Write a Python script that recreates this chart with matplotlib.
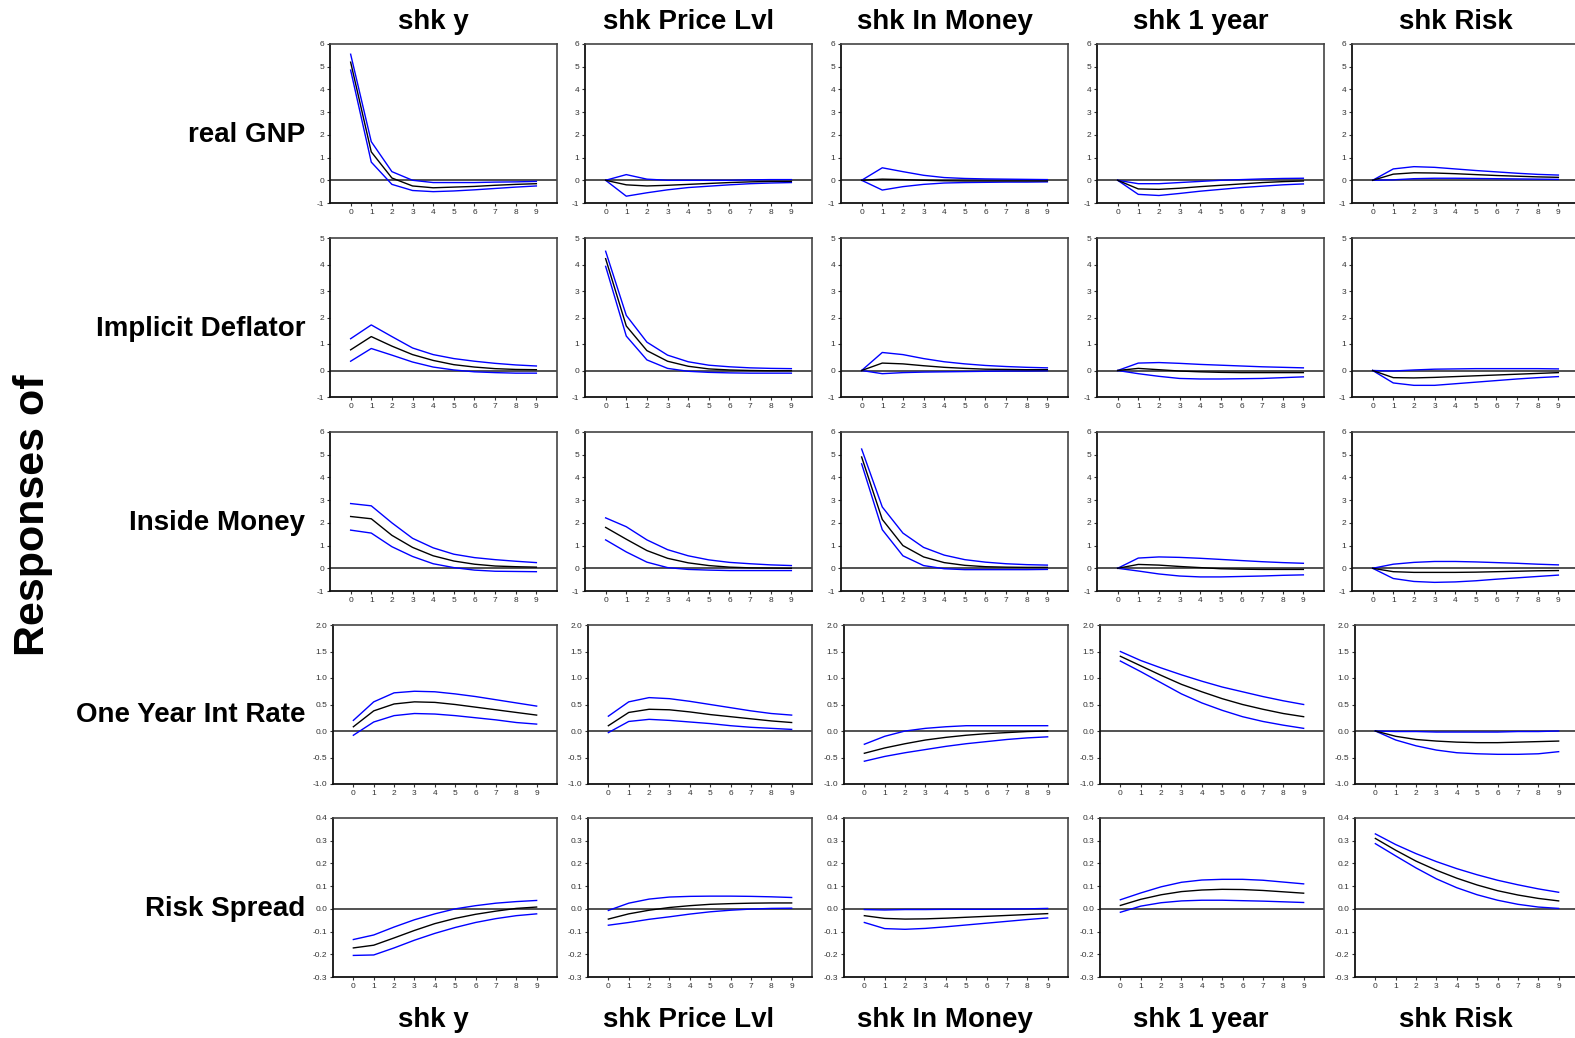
import numpy as np
import matplotlib
matplotlib.use("Agg")
import matplotlib.pyplot as plt

# ==========================================
# DATA (impulse responses, horizons 0..9)
# rows of each array = shocks, in column order
# ==========================================
SHOCKS = ["shk y", "shk Price Lvl", "shk In Money", "shk 1 year", "shk Risk"]
RESPONSES = ["real GNP", "Implicit Deflator", "Inside Money", "One Year Int Rate", "Risk Spread"]
HORIZON = list(range(10))

GNP_MID = [
    [5.2, 1.25, 0.1, -0.25, -0.33, -0.3, -0.27, -0.22, -0.18, -0.15],
    [0, -0.2, -0.25, -0.22, -0.18, -0.14, -0.1, -0.07, -0.05, -0.05],
    [0, 0.05, 0.03, 0.0, -0.02, -0.03, -0.03, -0.03, -0.03, -0.03],
    [0, -0.38, -0.4, -0.35, -0.28, -0.22, -0.16, -0.1, -0.06, -0.03],
    [0, 0.27, 0.33, 0.32, 0.29, 0.25, 0.21, 0.18, 0.15, 0.13],
]
GNP_LO = [
    [4.85, 0.8, -0.18, -0.45, -0.5, -0.47, -0.42, -0.36, -0.3, -0.25],
    [0, -0.7, -0.55, -0.42, -0.32, -0.26, -0.2, -0.15, -0.12, -0.1],
    [0, -0.43, -0.28, -0.18, -0.12, -0.1, -0.09, -0.08, -0.08, -0.07],
    [0, -0.62, -0.67, -0.58, -0.48, -0.4, -0.32, -0.26, -0.2, -0.16],
    [0, 0.02, 0.07, 0.09, 0.09, 0.08, 0.07, 0.06, 0.05, 0.04],
]
GNP_HI = [
    [5.55, 1.7, 0.38, 0.0, -0.1, -0.1, -0.1, -0.08, -0.07, -0.05],
    [0, 0.25, 0.05, 0.0, 0.0, 0.0, 0.0, 0.02, 0.03, 0.03],
    [0, 0.55, 0.38, 0.22, 0.12, 0.08, 0.06, 0.05, 0.04, 0.03],
    [0, -0.15, -0.15, -0.1, -0.05, 0.0, 0.03, 0.06, 0.08, 0.09],
    [0, 0.5, 0.6, 0.57, 0.5, 0.43, 0.37, 0.31, 0.26, 0.23],
]

DEFL_MID = [
    [0.78, 1.28, 0.92, 0.6, 0.38, 0.22, 0.13, 0.07, 0.04, 0.03],
    [4.22, 1.68, 0.75, 0.35, 0.16, 0.06, 0.02, 0.0, -0.01, -0.01],
    [0, 0.28, 0.25, 0.18, 0.12, 0.08, 0.05, 0.04, 0.03, 0.03],
    [0, 0.08, 0.03, -0.02, -0.05, -0.07, -0.08, -0.08, -0.08, -0.08],
    [0, -0.27, -0.28, -0.26, -0.23, -0.2, -0.17, -0.14, -0.11, -0.08],
]
DEFL_LO = [
    [0.35, 0.83, 0.58, 0.32, 0.13, 0.02, -0.05, -0.08, -0.1, -0.1],
    [3.93, 1.3, 0.4, 0.08, -0.03, -0.07, -0.09, -0.1, -0.1, -0.1],
    [0, -0.12, -0.08, -0.06, -0.05, -0.04, -0.03, -0.02, -0.02, -0.01],
    [0, -0.12, -0.22, -0.3, -0.32, -0.32, -0.31, -0.3, -0.27, -0.24],
    [0, -0.47, -0.56, -0.56, -0.5, -0.44, -0.38, -0.32, -0.27, -0.23],
]
DEFL_HI = [
    [1.2, 1.72, 1.28, 0.85, 0.6, 0.45, 0.35, 0.27, 0.21, 0.17],
    [4.5, 2.08, 1.07, 0.58, 0.33, 0.2, 0.14, 0.1, 0.08, 0.07],
    [0, 0.68, 0.6, 0.45, 0.33, 0.25, 0.19, 0.15, 0.12, 0.1],
    [0, 0.28, 0.3, 0.27, 0.23, 0.2, 0.17, 0.14, 0.12, 0.1],
    [0, -0.02, 0.02, 0.05, 0.06, 0.07, 0.07, 0.07, 0.07, 0.06],
]

MONEY_MID = [
    [2.28, 2.18, 1.45, 0.92, 0.55, 0.32, 0.18, 0.1, 0.07, 0.05],
    [1.8, 1.28, 0.78, 0.44, 0.24, 0.12, 0.05, 0.02, 0.01, 0.0],
    [4.9, 2.15, 1.0, 0.5, 0.25, 0.13, 0.07, 0.05, 0.04, 0.04],
    [0, 0.17, 0.14, 0.08, 0.03, -0.02, -0.04, -0.05, -0.05, -0.05],
    [0, -0.15, -0.18, -0.18, -0.18, -0.17, -0.15, -0.13, -0.11, -0.1],
]
MONEY_LO = [
    [1.68, 1.55, 0.95, 0.52, 0.2, 0.03, -0.08, -0.13, -0.14, -0.15],
    [1.25, 0.72, 0.27, 0.03, -0.05, -0.08, -0.1, -0.1, -0.1, -0.1],
    [4.6, 1.7, 0.55, 0.12, -0.02, -0.06, -0.06, -0.06, -0.06, -0.05],
    [0, -0.12, -0.25, -0.34, -0.38, -0.38, -0.36, -0.34, -0.31, -0.29],
    [0, -0.45, -0.58, -0.62, -0.6, -0.55, -0.48, -0.42, -0.36, -0.3],
]
MONEY_HI = [
    [2.85, 2.75, 2.0, 1.32, 0.9, 0.62, 0.47, 0.38, 0.31, 0.25],
    [2.22, 1.83, 1.25, 0.82, 0.55, 0.37, 0.26, 0.2, 0.15, 0.12],
    [5.25, 2.7, 1.55, 0.92, 0.58, 0.38, 0.27, 0.2, 0.16, 0.14],
    [0, 0.45, 0.5, 0.48, 0.44, 0.39, 0.34, 0.29, 0.25, 0.22],
    [0, 0.18, 0.26, 0.3, 0.3, 0.28, 0.25, 0.22, 0.18, 0.15],
]

RATE_MID = [
    [0.08, 0.38, 0.51, 0.55, 0.54, 0.5, 0.45, 0.4, 0.35, 0.3],
    [0.1, 0.35, 0.41, 0.4, 0.36, 0.31, 0.27, 0.23, 0.19, 0.16],
    [-0.42, -0.32, -0.24, -0.17, -0.12, -0.08, -0.05, -0.03, -0.01, 0.0],
    [1.41, 1.23, 1.05, 0.88, 0.74, 0.61, 0.5, 0.41, 0.33, 0.27],
    [0, -0.1, -0.16, -0.19, -0.21, -0.22, -0.22, -0.21, -0.2, -0.19],
]
RATE_LO = [
    [-0.08, 0.17, 0.29, 0.33, 0.32, 0.29, 0.25, 0.21, 0.16, 0.13],
    [-0.03, 0.18, 0.22, 0.2, 0.17, 0.14, 0.1, 0.07, 0.05, 0.03],
    [-0.57, -0.48, -0.41, -0.35, -0.29, -0.24, -0.2, -0.16, -0.13, -0.11],
    [1.32, 1.12, 0.91, 0.7, 0.53, 0.39, 0.27, 0.18, 0.11, 0.05],
    [0, -0.17, -0.28, -0.36, -0.41, -0.43, -0.44, -0.44, -0.43, -0.39],
]
RATE_HI = [
    [0.2, 0.55, 0.72, 0.75, 0.74, 0.7, 0.65, 0.59, 0.53, 0.47],
    [0.28, 0.55, 0.63, 0.61, 0.56, 0.5, 0.44, 0.38, 0.33, 0.3],
    [-0.25, -0.1, 0.0, 0.05, 0.08, 0.1, 0.1, 0.1, 0.1, 0.1],
    [1.5, 1.33, 1.19, 1.06, 0.94, 0.83, 0.74, 0.65, 0.57, 0.5],
    [0, -0.01, -0.01, -0.02, -0.02, -0.02, -0.02, -0.01, -0.01, 0.0],
]

SPREAD_MID = [
    [-0.172, -0.16, -0.128, -0.095, -0.065, -0.042, -0.024, -0.01, 0.002, 0.008],
    [-0.045, -0.022, -0.006, 0.006, 0.014, 0.02, 0.023, 0.025, 0.026, 0.026],
    [-0.03, -0.042, -0.045, -0.044, -0.041, -0.037, -0.033, -0.029, -0.025, -0.021],
    [0.015, 0.042, 0.062, 0.076, 0.083, 0.086, 0.085, 0.081, 0.075, 0.069],
    [0.31, 0.258, 0.21, 0.17, 0.135, 0.105, 0.08, 0.061, 0.046, 0.035],
]
SPREAD_LO = [
    [-0.205, -0.203, -0.172, -0.138, -0.108, -0.082, -0.06, -0.043, -0.03, -0.022],
    [-0.072, -0.06, -0.046, -0.035, -0.023, -0.013, -0.006, -0.001, 0.002, 0.003],
    [-0.06, -0.087, -0.09, -0.086, -0.079, -0.071, -0.063, -0.055, -0.047, -0.04],
    [-0.015, 0.012, 0.027, 0.035, 0.038, 0.038, 0.036, 0.034, 0.031, 0.028],
    [0.287, 0.233, 0.18, 0.132, 0.093, 0.062, 0.038, 0.02, 0.008, 0.002],
]
SPREAD_HI = [
    [-0.135, -0.115, -0.08, -0.048, -0.022, 0.0, 0.014, 0.025, 0.032, 0.037],
    [-0.007, 0.025, 0.043, 0.052, 0.055, 0.056, 0.056, 0.055, 0.053, 0.05],
    [-0.003, -0.005, -0.003, -0.003, -0.002, -0.002, -0.002, -0.001, 0.0, 0.002],
    [0.04, 0.07, 0.097, 0.117, 0.127, 0.13, 0.13, 0.126, 0.118, 0.11],
    [0.33, 0.283, 0.243, 0.208, 0.177, 0.15, 0.126, 0.106, 0.088, 0.073],
]

MIDS = [GNP_MID, DEFL_MID, MONEY_MID, RATE_MID, SPREAD_MID]
LOWS = [GNP_LO, DEFL_LO, MONEY_LO, RATE_LO, SPREAD_LO]
HIGHS = [GNP_HI, DEFL_HI, MONEY_HI, RATE_HI, SPREAD_HI]

# y-axis ranges and tick steps per response row
YLIMS = [(-1, 6), (-1, 5), (-1, 6), (-1, 2), (-0.3, 0.4)]
YSTEPS = [1, 1, 1, 0.5, 0.1]
YFMT = ["%d", "%d", "%d", "%.1f", "%.1f"]

# ==========================================
# LAYOUT (pixels)
# ==========================================
W, H = 1575, 1038
ROW_TOPS = [44, 238, 432, 625, 818]
COL_LEFTS = [330, 585, 841, 1097, 1352]
AX_W, AX_H = 227, 159

FONT = ["Liberation Sans", "DejaVu Sans"]
plt.rcParams['font.family'] = FONT

fig = plt.figure(figsize=(W / 100, H / 100), dpi=100)


def px_rect(left, top, w, h):
    return [left / W, 1 - (top + h) / H, w / W, h / H]


for r in range(5):
    for c in range(5):
        shift = 3 if r >= 3 else 0
        ax = fig.add_axes(px_rect(COL_LEFTS[c] + shift, ROW_TOPS[r], AX_W - shift, AX_H))
        ax.axhline(0, color='#333333', lw=1.2, zorder=1)
        ax.plot(HORIZON, HIGHS[r][c], color='#0000ff', lw=1.0, zorder=2)
        ax.plot(HORIZON, LOWS[r][c], color='#0000ff', lw=1.0, zorder=2)
        ax.plot(HORIZON, MIDS[r][c], color='black', lw=1.0, zorder=3)

        lo, hi = YLIMS[r]
        ax.set_ylim(lo, hi)
        ax.set_xlim(-1, 10)
        ax.set_xticks(HORIZON)
        ax.set_yticks(np.arange(lo, hi + YSTEPS[r] / 2, YSTEPS[r]))
        ax.yaxis.set_major_formatter(matplotlib.ticker.FormatStrFormatter(YFMT[r]))
        ax.tick_params(axis='both', labelsize=6, labelcolor='#333333',
                       length=2.5, width=0.8, color='#333333', pad=1.5, direction='out')
        for side in ['left', 'bottom']:
            ax.spines[side].set_color('#111111')
            ax.spines[side].set_linewidth(1.3)
        for side in ['top', 'right']:
            ax.spines[side].set_color('#444444')
            ax.spines[side].set_linewidth(1.2)

        if c == 0:
            yc = ROW_TOPS[r] + AX_H / 2 + 11
            fig.text(305 / W, 1 - yc / H, RESPONSES[r], ha='right', va='center',
                     fontsize=20, fontweight='bold')

for c in range(5):
    xc = COL_LEFTS[c] + AX_W / 2 - 10
    fig.text(xc / W, 1 - 22 / H, SHOCKS[c], ha='center', va='center',
             fontsize=20, fontweight='bold')
    fig.text(xc / W, 1 - 1020 / H, SHOCKS[c], ha='center', va='center',
             fontsize=20, fontweight='bold')

fig.text(33 / W, 1 - 515 / H, "Responses of", rotation=90, ha='center', va='center',
         fontsize=31, fontweight='bold')

fig.savefig('out.png', dpi=100)
